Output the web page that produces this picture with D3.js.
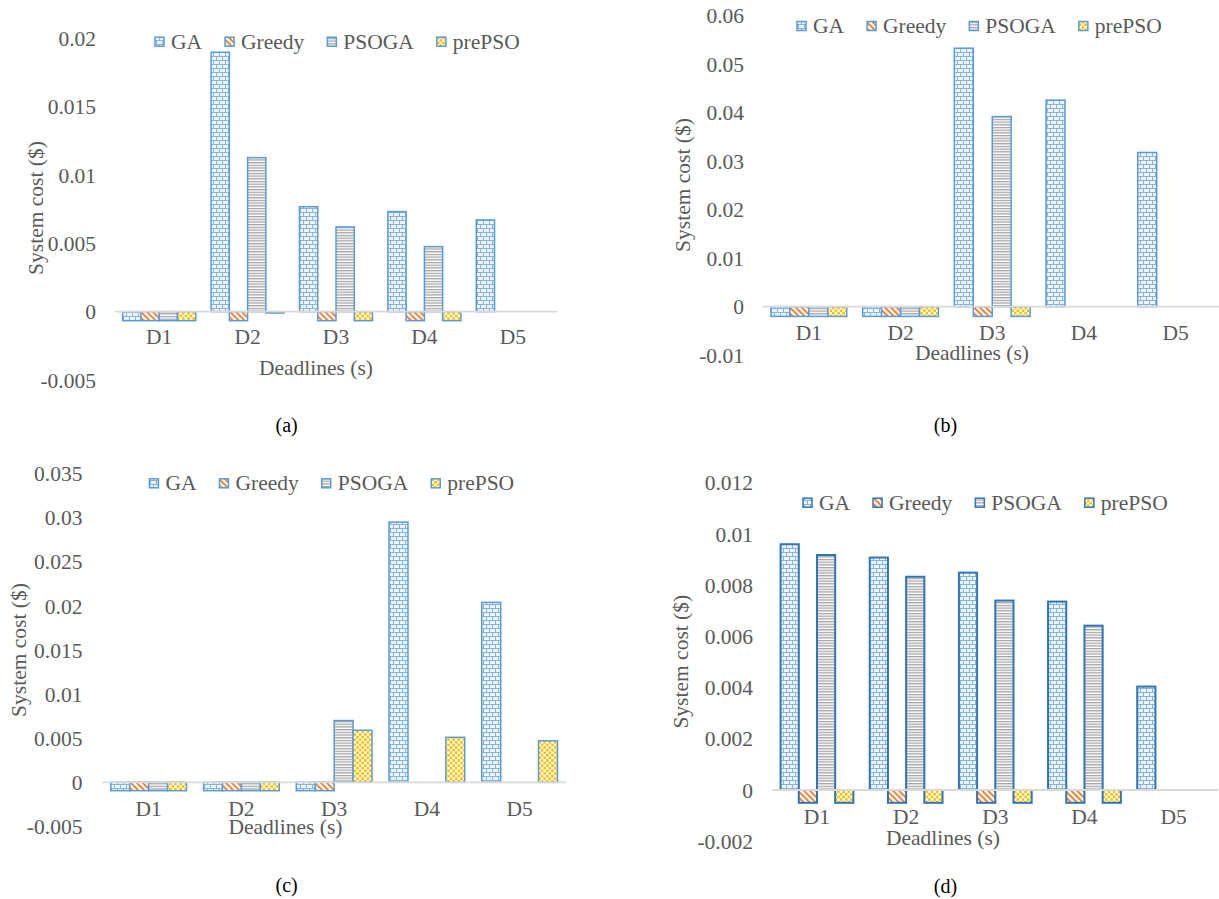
<!DOCTYPE html>
<html>
<head>
<meta charset="utf-8">
<script src="https://cdn.jsdelivr.net/npm/d3@7"></script>
<style>
  html, body { margin: 0; padding: 0; background: #ffffff; }
  svg { display: block; }
  svg text { font-family: "Liberation Serif", "Times New Roman", "DejaVu Serif", serif; }
</style>
</head>
<body>
<svg id="fig" width="1219" height="899"></svg>
<script>
// ---------------- DATA ----------------
const categories = ["D1", "D2", "D3", "D4", "D5"];
const seriesNames = ["GA", "Greedy", "PSOGA", "prePSO"];

// (a)
const aGA     = [-0.00066, 0.01898, 0.00768, 0.00732, 0.00671];
const aGreedy = [-0.00066, -0.00066, -0.00066, -0.00066, null];
const aPSOGA  = [-0.00066, 0.01127, 0.00620, 0.00476, null];
const aPrePSO = [-0.00066, -0.00010, -0.00066, -0.00066, null];
const aTickValues = [-0.005, 0, 0.005, 0.01, 0.015, 0.02];
const aTickLabels = ["-0.005", "0", "0.005", "0.01", "0.015", "0.02"];

// (b)
const bGA     = [-0.0020, -0.0020, 0.0533, 0.0426, 0.0318];
const bGreedy = [-0.0020, -0.0020, -0.0020, null, null];
const bPSOGA  = [-0.0020, -0.0020, 0.0392, null, null];
const bPrePSO = [-0.0020, -0.0020, -0.0020, null, null];
const bTickValues = [-0.01, 0, 0.01, 0.02, 0.03, 0.04, 0.05, 0.06];
const bTickLabels = ["-0.01", "0", "0.01", "0.02", "0.03", "0.04", "0.05", "0.06"];

// (c)
const cGA     = [-0.00095, -0.00095, -0.00095, 0.0295, 0.0204];
const cGreedy = [-0.00095, -0.00095, -0.00095, null, null];
const cPSOGA  = [-0.00095, -0.00095, 0.0070, null, null];
const cPrePSO = [-0.00095, -0.00095, 0.0059, 0.0051, 0.0047];
const cTickValues = [-0.005, 0, 0.005, 0.01, 0.015, 0.02, 0.025, 0.03, 0.035];
const cTickLabels = ["-0.005", "0", "0.005", "0.01", "0.015", "0.02", "0.025", "0.03", "0.035"];

// (d)
const dGA     = [0.00960, 0.00908, 0.00849, 0.00736, 0.00404];
const dGreedy = [-0.0005, -0.0005, -0.0005, -0.0005, null];
const dPSOGA  = [0.00918, 0.00833, 0.00740, 0.00642, null];
const dPrePSO = [-0.0005, -0.0005, -0.0005, -0.0005, null];
const dTickValues = [-0.002, 0, 0.002, 0.004, 0.006, 0.008, 0.01, 0.012];
const dTickLabels = ["-0.002", "0", "0.002", "0.004", "0.006", "0.008", "0.01", "0.012"];

const xTitle = "Deadlines (s)";
const yTitle = "System cost ($)";

// ---------------- DRAWING ----------------
const svg = d3.select("#fig");
svg.append("rect").attr("width", 1219).attr("height", 899).attr("fill", "#ffffff");

const FONT = "\"Liberation Serif\", \"Times New Roman\", \"DejaVu Serif\", serif";
const TEXT_GRAY = "#595959";
const FS = 21.5;

// patterns
const defs = svg.append("defs");
// brick (GA)
{
  const p = defs.append("pattern").attr("id", "pGA").attr("patternUnits", "userSpaceOnUse")
    .attr("width", 6).attr("height", 8);
  p.append("rect").attr("width", 6).attr("height", 8).attr("fill", "#EEF4FB");
  p.append("rect").attr("x", 0).attr("y", 0).attr("width", 6).attr("height", 1).attr("fill", "#86B4E2");
  p.append("rect").attr("x", 0).attr("y", 4).attr("width", 6).attr("height", 1).attr("fill", "#86B4E2");
  p.append("rect").attr("x", 0).attr("y", 0).attr("width", 1).attr("height", 4).attr("fill", "#86B4E2");
  p.append("rect").attr("x", 3).attr("y", 4).attr("width", 1).attr("height", 4).attr("fill", "#86B4E2");
}
// diagonal (Greedy)
{
  const p = defs.append("pattern").attr("id", "pGreedy").attr("patternUnits", "userSpaceOnUse")
    .attr("width", 4.2).attr("height", 10).attr("patternTransform", "rotate(-45)");
  p.append("rect").attr("width", 4.2).attr("height", 10).attr("fill", "#ffffff");
  p.append("rect").attr("x", 0).attr("width", 1.9).attr("height", 10).attr("fill", "#ED7D31");
}
// horizontal (PSOGA)
{
  const p = defs.append("pattern").attr("id", "pPSOGA").attr("patternUnits", "userSpaceOnUse")
    .attr("width", 6).attr("height", 2.7);
  p.append("rect").attr("width", 6).attr("height", 2.7).attr("fill", "#ffffff");
  p.append("rect").attr("y", 0).attr("width", 6).attr("height", 1.3).attr("fill", "#A3A3A3");
}
// checker (prePSO)
{
  const p = defs.append("pattern").attr("id", "pPrePSO").attr("patternUnits", "userSpaceOnUse")
    .attr("width", 5.2).attr("height", 5.2);
  p.append("rect").attr("width", 5.2).attr("height", 5.2).attr("fill", "#ffffff");
  p.append("rect").attr("x", 0).attr("y", 0).attr("width", 2.6).attr("height", 2.6).attr("fill", "#FFC000");
  p.append("rect").attr("x", 2.6).attr("y", 2.6).attr("width", 2.6).attr("height", 2.6).attr("fill", "#FFC000");
}
const patternOf = { GA: "url(#pGA)", Greedy: "url(#pGreedy)", PSOGA: "url(#pPSOGA)", prePSO: "url(#pPrePSO)" };

function styleText(sel, size, color) {
  return sel.style("font-family", FONT).style("font-size", size + "px").attr("fill", color);
}

function drawChart(cfg) {
  const g = svg.append("g");
  const x0 = d3.scaleBand().domain(categories).range([cfg.xLeft, cfg.xRight]).paddingInner(0).paddingOuter(0);
  const x1 = d3.scaleBand().domain(seriesNames).range([0, x0.bandwidth()]).paddingInner(0).paddingOuter(cfg.pad);
  const y = d3.scaleLinear()
    .domain([cfg.ticks[0], cfg.ticks[cfg.ticks.length - 1]])
    .range([cfg.yBottom, cfg.yTop]);

  // bars
  const rows = [];
  categories.forEach((c, i) => {
    seriesNames.forEach(s => {
      const v = cfg.values[s][i];
      if (v !== null && v !== undefined) rows.push({ c, s, v });
    });
  });
  g.append("g").selectAll("rect").data(rows).join("rect")
    .attr("x", d => x0(d.c) + x1(d.s))
    .attr("width", x1.bandwidth())
    .attr("y", d => Math.min(y(d.v), y(0)))
    .attr("height", d => Math.abs(y(d.v) - y(0)))
    .attr("fill", d => patternOf[d.s])
    .attr("stroke", cfg.stroke)
    .attr("stroke-width", cfg.strokeWidth);

  // zero line
  g.append("line")
    .attr("x1", cfg.xLeft).attr("x2", cfg.xRight)
    .attr("y1", y(0)).attr("y2", y(0))
    .attr("stroke", "#D9D9D9").attr("stroke-width", 1.8);

  // y axis
  const yAxis = d3.axisLeft(y).tickValues(cfg.ticks)
    .tickFormat((d, i) => cfg.labels[i]).tickSize(0).tickPadding(0);
  const ya = g.append("g").attr("transform", `translate(${cfg.tickRight},0)`).call(yAxis);
  ya.attr("font-family", null).attr("font-size", null);
  ya.select(".domain").remove();
  styleText(ya.selectAll("text"), FS, TEXT_GRAY).attr("dy", "0.33em");

  // x axis
  const xAxis = d3.axisBottom(x0).tickSize(0).tickPadding(0);
  const xa = g.append("g").attr("transform", `translate(0,${cfg.xLabelY})`).call(xAxis);
  xa.attr("font-family", null).attr("font-size", null);
  xa.select(".domain").remove();
  styleText(xa.selectAll("text"), FS, TEXT_GRAY).attr("y", 0).attr("dy", "0.33em");

  // axis titles
  styleText(g.append("text").attr("x", cfg.xTitleX).attr("y", cfg.xTitleY).attr("dy", "0.33em")
    .attr("text-anchor", "middle"), FS, TEXT_GRAY).text(xTitle);
  styleText(g.append("text")
    .attr("transform", `translate(${cfg.yTitleX},${cfg.yTitleY}) rotate(-90)`)
    .attr("dy", "0.33em").attr("text-anchor", "middle"), FS, TEXT_GRAY).text(yTitle);

  // legend
  let lx = cfg.legX;
  seriesNames.forEach(s => {
    g.append("rect").attr("x", lx).attr("y", cfg.legY - 4.5).attr("width", 9).attr("height", 9)
      .attr("fill", patternOf[s]).attr("stroke", cfg.stroke).attr("stroke-width", 1.5);
    const t = styleText(g.append("text").attr("x", lx + 16).attr("y", cfg.legY).attr("dy", "0.33em"),
      FS, TEXT_GRAY).text(s);
    lx += 16 + t.node().getComputedTextLength() + 23;
  });

  // caption
  styleText(g.append("text").attr("x", cfg.capX).attr("y", cfg.capY).attr("dy", "0.33em")
    .attr("text-anchor", "middle"), 20, "#000000").text(cfg.caption);
}

drawChart({
  values: { GA: aGA, Greedy: aGreedy, PSOGA: aPSOGA, prePSO: aPrePSO },
  ticks: aTickValues, labels: aTickLabels,
  xLeft: 115, xRight: 557, pad: 0.42,
  yBottom: 380, yTop: 38.3, tickRight: 96,
  xLabelY: 337.3, xTitleX: 316, xTitleY: 368, yTitleX: 35.6, yTitleY: 208,
  legX: 155, legY: 41.7, capX: 286.6, capY: 425, caption: "(a)",
  stroke: "#5B9BD5", strokeWidth: 1.5
});
drawChart({
  values: { GA: bGA, Greedy: bGreedy, PSOGA: bPSOGA, prePSO: bPrePSO },
  ticks: bTickValues, labels: bTickLabels,
  xLeft: 763, xRight: 1221.5, pad: 0.42,
  yBottom: 355.2, yTop: 15.7, tickRight: 744,
  xLabelY: 332.7, xTitleX: 972, xTitleY: 352.7, yTitleX: 683, yTitleY: 185,
  legX: 797, legY: 26, capX: 945.4, capY: 425, caption: "(b)",
  stroke: "#5B9BD5", strokeWidth: 1.5
});
drawChart({
  values: { GA: cGA, Greedy: cGreedy, PSOGA: cPSOGA, prePSO: cPrePSO },
  ticks: cTickValues, labels: cTickLabels,
  xLeft: 102.3, xRight: 566, pad: 0.45,
  yBottom: 826.4, yTop: 473.6, tickRight: 82.4,
  xLabelY: 809.3, xTitleX: 285.5, xTitleY: 826.7, yTitleX: 19, yTitleY: 650,
  legX: 149.4, legY: 483.3, capX: 286.6, capY: 885, caption: "(c)",
  stroke: "#5B9BD5", strokeWidth: 1.5
});
drawChart({
  values: { GA: dGA, Greedy: dGreedy, PSOGA: dPSOGA, prePSO: dPrePSO },
  ticks: dTickValues, labels: dTickLabels,
  xLeft: 772.4, xRight: 1218.2, pad: 0.45,
  yBottom: 841.2, yTop: 482.8, tickRight: 753,
  xLabelY: 816.7, xTitleX: 943, xTitleY: 838.3, yTitleX: 681, yTitleY: 661.7,
  legX: 803, legY: 502.7, capX: 945.4, capY: 886.7, caption: "(d)",
  stroke: "#2E75B6", strokeWidth: 2
});
</script>
</body>
</html>
